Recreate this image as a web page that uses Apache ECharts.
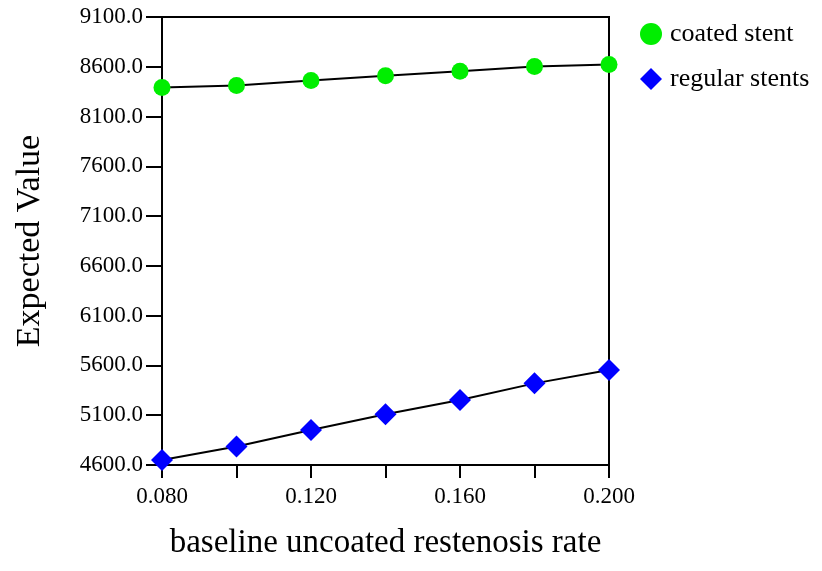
<!DOCTYPE html>
<html>
<head>
<meta charset="utf-8">
<script src="https://cdn.jsdelivr.net/npm/echarts@6/dist/echarts.min.js"></script>
<style>
  html, body { margin: 0; padding: 0; background: #fff; }
  #chart { width: 822px; height: 571px; }
</style>
</head>
<body>
<div id="chart"></div>
<script>
var rates = [0.08, 0.10, 0.12, 0.14, 0.16, 0.18, 0.20];
var coatedStent = [8393, 8413, 8463, 8510, 8554, 8603, 8624];
var regularStents = [4650, 4785, 4952, 5109, 5253, 5420, 5554];
var seriesNames = ['coated stent', 'regular stents'];

var font = 'Liberation Serif';

function pairs(vals) {
  return rates.map(function (r, i) { return [r, vals[i]]; });
}

var chart = echarts.init(document.getElementById('chart'));
chart.setOption({
  animation: false,
  backgroundColor: '#fff',
  textStyle: { fontFamily: font, color: '#000' },
  grid: {
    left: 162, right: 213, top: 17, bottom: 106,
    show: true, borderColor: '#000', borderWidth: 2, backgroundColor: 'transparent'
  },
  legend: {
    orient: 'vertical',
    left: 635, top: 16,
    itemGap: 19,
    itemWidth: 22, itemHeight: 22,
    textStyle: { fontFamily: font, fontSize: 26, color: '#000', padding: [0, 0, 0, 3] },
    data: [
      { name: seriesNames[0], icon: 'circle', itemStyle: { color: '#00ee00' } },
      { name: seriesNames[1], icon: 'diamond', itemStyle: { color: '#0000ff' } }
    ]
  },
  xAxis: {
    type: 'value',
    min: 0.08, max: 0.2, interval: 0.02,
    name: 'baseline uncoated restenosis rate',
    nameLocation: 'middle', nameGap: 62,
    nameTextStyle: { fontFamily: font, fontSize: 33, color: '#000' },
    axisLine: { lineStyle: { color: '#000', width: 2 } },
    axisTick: { length: 13, lineStyle: { color: '#000', width: 2 } },
    axisLabel: {
      fontFamily: font, fontSize: 23, color: '#000', margin: 20,
      formatter: function (v) {
        return Math.round(v * 100) % 4 === 0 ? v.toFixed(3) : '';
      }
    },
    splitLine: { show: false }
  },
  yAxis: {
    type: 'value',
    min: 4600, max: 9100, interval: 500,
    name: 'Expected Value',
    nameLocation: 'middle', nameGap: 115, nameRotate: 90,
    nameTextStyle: { fontFamily: font, fontSize: 34, color: '#000' },
    axisLine: { lineStyle: { color: '#000', width: 2 } },
    axisTick: { length: 16, lineStyle: { color: '#000', width: 2 } },
    axisLabel: {
      fontFamily: font, fontSize: 23, color: '#000', margin: 19,
      formatter: function (v) { return v.toFixed(1); }
    },
    splitLine: { show: false }
  },
  series: [
    {
      name: seriesNames[0],
      type: 'line',
      symbol: 'circle',
      symbolSize: 17,
      itemStyle: { color: '#00ee00' },
      lineStyle: { color: '#000', width: 2 },
      z: 3,
      data: pairs(coatedStent)
    },
    {
      name: seriesNames[1],
      type: 'line',
      symbol: 'diamond',
      symbolSize: 22,
      itemStyle: { color: '#0000ff' },
      lineStyle: { color: '#000', width: 2 },
      z: 3,
      data: pairs(regularStents)
    }
  ]
});
</script>
</body>
</html>
